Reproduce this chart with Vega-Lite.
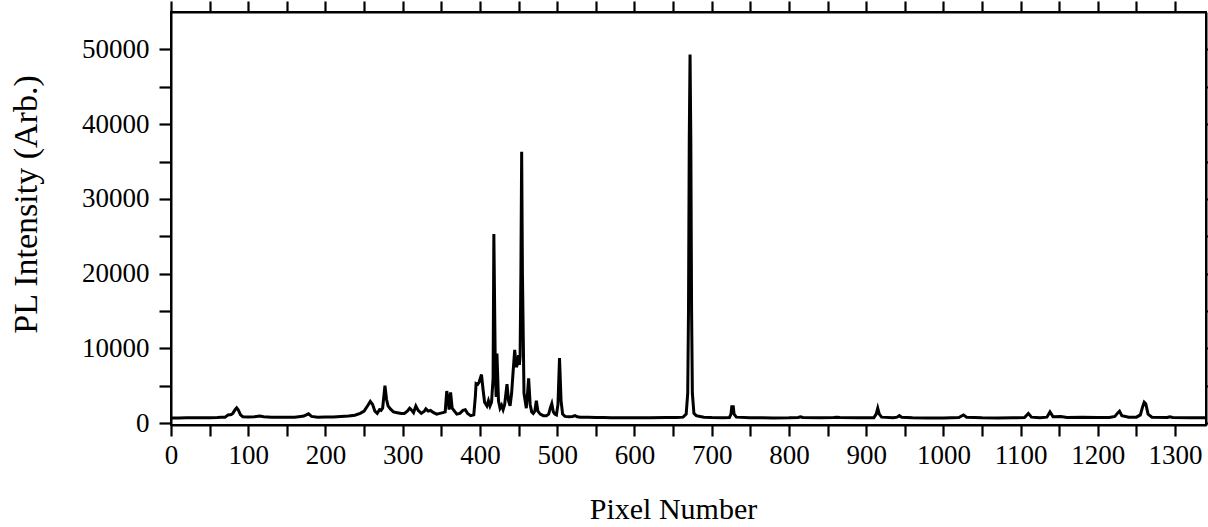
{
  "$schema": "https://vega.github.io/schema/vega-lite/v6.json",
  "autosize": "none",
  "width": 1035,
  "height": 413,
  "padding": {"left": 171, "top": 12, "right": 2, "bottom": 102},
  "background": "white",
  "config": {
    "view": {"stroke": "black", "strokeWidth": 2},
    "font": "Liberation Serif",
    "axis": {
      "domainColor": "black", "domainWidth": 2, "tickColor": "black", "tickWidth": 2.2,
      "labelColor": "black", "titleColor": "black", "grid": false,
      "labelFont": "Liberation Serif", "titleFont": "Liberation Serif",
      "labelFontSize": 27, "titleFontSize": 30, "titleFontWeight": "normal"
    }
  },
  "data": {"values": [
    {"px":0,"pl":700},{"px":10,"pl":690},{"px":20,"pl":720},{"px":30,"pl":710},{"px":40,"pl":720},{"px":50,"pl":730},{"px":60,"pl":760},{"px":65,"pl":800},{"px":70,"pl":800},{"px":74,"pl":1100},{"px":78,"pl":1150},{"px":80,"pl":1300},{"px":83,"pl":1800},{"px":85,"pl":2050},{"px":87,"pl":1800},{"px":90,"pl":1100},{"px":93,"pl":850},{"px":100,"pl":830},{"px":108,"pl":850},{"px":115,"pl":950},{"px":120,"pl":850},{"px":130,"pl":800},{"px":140,"pl":780},{"px":150,"pl":780},{"px":160,"pl":800},{"px":168,"pl":900},{"px":172,"pl":950},{"px":178,"pl":1250},{"px":182,"pl":900},{"px":190,"pl":800},{"px":200,"pl":820},{"px":210,"pl":830},{"px":220,"pl":880},{"px":230,"pl":950},{"px":238,"pl":1050},{"px":245,"pl":1300},{"px":250,"pl":1600},{"px":255,"pl":2400},{"px":258,"pl":2900},{"px":261,"pl":2500},{"px":264,"pl":1600},{"px":267,"pl":1300},{"px":270,"pl":1800},{"px":272,"pl":1700},{"px":274,"pl":2000},{"px":277,"pl":5000},{"px":279,"pl":3200},{"px":281,"pl":2300},{"px":284,"pl":1900},{"px":288,"pl":1500},{"px":293,"pl":1400},{"px":298,"pl":1300},{"px":302,"pl":1300},{"px":306,"pl":1600},{"px":309,"pl":2000},{"px":311,"pl":1800},{"px":314,"pl":1400},{"px":317,"pl":2300},{"px":320,"pl":1700},{"px":324,"pl":1300},{"px":328,"pl":1600},{"px":330,"pl":1900},{"px":333,"pl":1600},{"px":336,"pl":1700},{"px":340,"pl":1400},{"px":344,"pl":1200},{"px":348,"pl":1300},{"px":352,"pl":1400},{"px":355,"pl":1500},{"px":357,"pl":4300},{"px":359,"pl":3000},{"px":360,"pl":1800},{"px":362,"pl":4100},{"px":364,"pl":2000},{"px":367,"pl":1600},{"px":370,"pl":1200},{"px":374,"pl":1300},{"px":378,"pl":1700},{"px":381,"pl":1800},{"px":384,"pl":1300},{"px":388,"pl":1000},{"px":392,"pl":1100},{"px":394,"pl":3500},{"px":395,"pl":5300},{"px":397,"pl":5200},{"px":399,"pl":5500},{"px":402,"pl":6500},{"px":404,"pl":4500},{"px":406,"pl":2800},{"px":409,"pl":2300},{"px":411,"pl":3000},{"px":413,"pl":2300},{"px":415,"pl":2800},{"px":417,"pl":6000},{"px":418,"pl":25300},{"px":420,"pl":6000},{"px":421,"pl":3500},{"px":422,"pl":9300},{"px":424,"pl":3000},{"px":426,"pl":2000},{"px":428,"pl":2400},{"px":430,"pl":1800},{"px":432,"pl":2500},{"px":435,"pl":5200},{"px":437,"pl":3000},{"px":439,"pl":2300},{"px":441,"pl":4000},{"px":443,"pl":7000},{"px":445,"pl":9800},{"px":447,"pl":7500},{"px":449,"pl":8000},{"px":450,"pl":9100},{"px":451,"pl":7800},{"px":452,"pl":9000},{"px":453,"pl":20000},{"px":454,"pl":36300},{"px":455,"pl":20000},{"px":457,"pl":4000},{"px":460,"pl":2000},{"px":462,"pl":4500},{"px":463,"pl":6000},{"px":465,"pl":2500},{"px":467,"pl":1500},{"px":469,"pl":1300},{"px":471,"pl":1600},{"px":473,"pl":3000},{"px":475,"pl":1600},{"px":478,"pl":1200},{"px":482,"pl":1000},{"px":486,"pl":1000},{"px":489,"pl":1200},{"px":491,"pl":2000},{"px":493,"pl":2600},{"px":495,"pl":1500},{"px":497,"pl":1200},{"px":499,"pl":1100},{"px":501,"pl":2500},{"px":503,"pl":8700},{"px":505,"pl":3000},{"px":507,"pl":1200},{"px":510,"pl":900},{"px":515,"pl":850},{"px":520,"pl":900},{"px":523,"pl":1000},{"px":526,"pl":850},{"px":530,"pl":800},{"px":540,"pl":780},{"px":550,"pl":750},{"px":560,"pl":740},{"px":570,"pl":730},{"px":580,"pl":720},{"px":600,"pl":720},{"px":620,"pl":730},{"px":640,"pl":740},{"px":655,"pl":760},{"px":663,"pl":800},{"px":667,"pl":1200},{"px":669,"pl":4000},{"px":670,"pl":15000},{"px":671,"pl":38000},{"px":672,"pl":49300},{"px":673,"pl":38000},{"px":674,"pl":15000},{"px":675,"pl":4000},{"px":677,"pl":1300},{"px":680,"pl":1000},{"px":685,"pl":900},{"px":690,"pl":800},{"px":700,"pl":750},{"px":715,"pl":720},{"px":723,"pl":740},{"px":725,"pl":1200},{"px":726,"pl":2200},{"px":728,"pl":2200},{"px":729,"pl":1200},{"px":732,"pl":800},{"px":750,"pl":720},{"px":780,"pl":700},{"px":800,"pl":710},{"px":812,"pl":750},{"px":815,"pl":850},{"px":818,"pl":750},{"px":840,"pl":720},{"px":858,"pl":740},{"px":862,"pl":800},{"px":866,"pl":740},{"px":890,"pl":720},{"px":910,"pl":730},{"px":913,"pl":1200},{"px":915,"pl":2000},{"px":917,"pl":1200},{"px":920,"pl":800},{"px":935,"pl":720},{"px":940,"pl":800},{"px":943,"pl":1000},{"px":946,"pl":800},{"px":960,"pl":720},{"px":980,"pl":700},{"px":1000,"pl":700},{"px":1020,"pl":760},{"px":1026,"pl":1100},{"px":1030,"pl":800},{"px":1050,"pl":720},{"px":1070,"pl":700},{"px":1090,"pl":720},{"px":1105,"pl":750},{"px":1110,"pl":1300},{"px":1114,"pl":800},{"px":1125,"pl":720},{"px":1134,"pl":800},{"px":1138,"pl":1500},{"px":1142,"pl":850},{"px":1152,"pl":900},{"px":1160,"pl":750},{"px":1180,"pl":780},{"px":1200,"pl":750},{"px":1215,"pl":760},{"px":1222,"pl":900},{"px":1226,"pl":1400},{"px":1228,"pl":1600},{"px":1231,"pl":1000},{"px":1240,"pl":780},{"px":1250,"pl":800},{"px":1255,"pl":1100},{"px":1258,"pl":2200},{"px":1260,"pl":2800},{"px":1262,"pl":2600},{"px":1265,"pl":1200},{"px":1270,"pl":800},{"px":1290,"pl":750},{"px":1293,"pl":850},{"px":1297,"pl":750},{"px":1320,"pl":720},{"px":1340,"pl":710}
  ]},
  "layer": [
    {
      "mark": {"type": "line", "color": "black", "strokeWidth": 3, "clip": true},
      "encoding": {
        "x": {"field": "px", "type": "quantitative",
          "scale": {"domain": [0, 1340], "nice": false, "zero": false},
          "axis": {"orient": "bottom", "title": "Pixel Number", "format": "d",
            "values": [0,50,100,150,200,250,300,350,400,450,500,550,600,650,700,750,800,850,900,950,1000,1050,1100,1150,1200,1250,1300],
            "labelExpr": "datum.value % 100 === 0 ? datum.label : ''",
            "tickSize": 11,
            "encode": {"ticks": {"update": {"y2": {"signal": "datum.value % 100 === 0 ? 11 : 6"}}}},
            "labelPadding": 6, "titlePadding": 26, "titleX": 502, "labelFlush": false, "labelOverlap": false}},
        "y": {"field": "pl", "type": "quantitative",
          "scale": {"domain": [-250, 55000], "nice": false, "zero": false},
          "axis": {"orient": "left", "title": "PL Intensity (Arb.)", "format": "d", "titleFontSize": 34,
            "values": [0,5000,10000,15000,20000,25000,30000,35000,40000,45000,50000],
            "labelExpr": "datum.value % 10000 === 0 ? datum.label : ''",
            "tickSize": 12,
            "encode": {"ticks": {"update": {"x2": {"signal": "datum.value % 10000 === 0 ? -12 : -6"}}}},
            "labelPadding": 10, "titlePadding": 38, "titleY": 192, "labelOverlap": false}}
      }
    },
    {
      "mark": {"type": "line", "color": "black", "strokeOpacity": 0, "clip": true},
      "encoding": {
        "x": {"field": "px", "type": "quantitative",
          "scale": {"domain": [0, 1340], "nice": false, "zero": false},
          "axis": {"orient": "top", "title": null, "labels": false,
            "values": [0,50,100,150,200,250,300,350,400,450,500,550,600,650,700,750,800,850,900,950,1000,1050,1100,1150,1200,1250,1300],
            "tickSize": 11,
            "encode": {"ticks": {"update": {"y2": {"signal": "datum.value % 100 === 0 ? 11 : 5"}}}}}},
        "y": {"field": "pl", "type": "quantitative",
          "scale": {"domain": [-250, 55000], "nice": false, "zero": false},
          "axis": {"orient": "right", "title": null, "labels": false,
            "values": [0,5000,10000,15000,20000,25000,30000,35000,40000,45000,50000],
            "tickSize": 12,
            "encode": {"ticks": {"update": {"x2": {"signal": "datum.value % 10000 === 0 ? -12 : -6"}}}}}}
      }
    }
  ],
  "resolve": {"axis": {"x": "independent", "y": "independent"}}
}
